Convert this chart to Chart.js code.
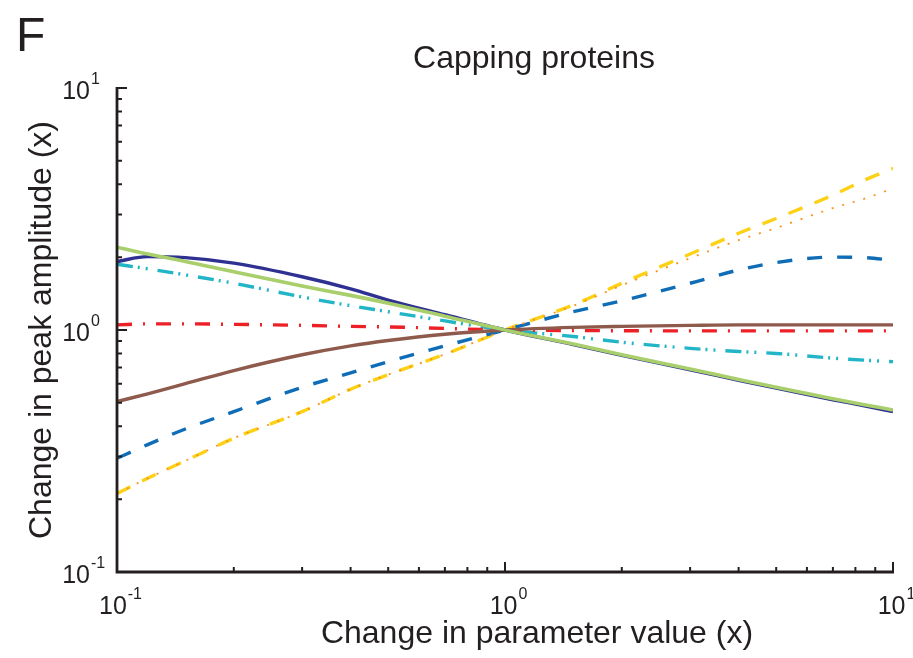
<!DOCTYPE html>
<html><head><meta charset="utf-8">
<script src="https://cdn.jsdelivr.net/npm/chart.js@4.4.1/dist/chart.umd.min.js"></script>
<style>html,body{margin:0;padding:0;background:#fff;overflow:hidden}</style>
</head><body>
<canvas id="c" width="913" height="658"></canvas>
<script>
// ---- data ----
const paramChange = [0.1, 0.12, 0.15, 0.2, 0.3, 0.4, 0.5, 0.7, 1, 1.5, 2, 3, 4, 5, 7, 8.5, 10];
const greenSolid  = [2.2, 2.06, 1.92, 1.74, 1.52, 1.39, 1.29, 1.14, 1, 0.875, 0.79, 0.69, 0.625, 0.58, 0.52, 0.49, 0.467];
const navySolid   = [1.92, 2.01, 1.99, 1.89, 1.66, 1.48, 1.33, 1.156, 1, 0.87, 0.785, 0.685, 0.62, 0.575, 0.515, 0.485, 0.46];
const brownSolid  = [0.506, 0.545, 0.60, 0.68, 0.79, 0.86, 0.905, 0.96, 1, 1.025, 1.035, 1.045, 1.05, 1.05, 1.05, 1.05, 1.05];
const redDashDot  = [1.05, 1.06, 1.06, 1.055, 1.045, 1.035, 1.03, 1.015, 1, 0.995, 0.993, 0.992, 0.992, 0.992, 0.992, 0.992, 0.992];
const cyanDashDots= [1.87, 1.79, 1.69, 1.56, 1.37, 1.26, 1.19, 1.09, 1, 0.94, 0.89, 0.84, 0.815, 0.80, 0.765, 0.75, 0.74];
const blueDashed  = [0.295, 0.336, 0.39, 0.46, 0.58, 0.665, 0.74, 0.86, 1, 1.19, 1.32, 1.56, 1.77, 1.9, 2.0, 1.99, 1.94];
const orangeDotted= [0.211, 0.244, 0.288, 0.357, 0.46, 0.569, 0.654, 0.794, 1, 1.26, 1.53, 1.98, 2.35, 2.64, 3.19, 3.5, 3.85];
const yellowDashed= [0.211, 0.244, 0.288, 0.357, 0.46, 0.569, 0.654, 0.794, 1, 1.27, 1.56, 2.06, 2.51, 2.89, 3.61, 4.18, 4.66];

const decadeTicks = [0.1, 1, 10];
const decadeExponents = ["-1", "0", "1"];
const minorMultipliers = [2, 3, 4, 5, 6, 7, 8, 9];
const titleText = "Capping proteins";
const xTitle = "Change in parameter value (x)";
const yTitle = "Change in peak amplitude (x)";
const panelLetter = "F";

const FONT = "'Liberation Sans', Arial, Helvetica, sans-serif";
const pts = arr => paramChange.map((x, i) => ({x: x, y: arr[i]}));
function ds(vals, color, dash, width) {
  return {data: pts(vals), borderColor: color, borderDash: dash, borderWidth: width,
          pointRadius: 0, fill: false, cubicInterpolationMode: 'monotone', borderCapStyle: 'butt'};
}

const axesPlugin = {
  id: 'axesPlugin',
  afterDraw(chart) {
    const ctx = chart.ctx, xs = chart.scales.x, ys = chart.scales.y, a = chart.chartArea;
    ctx.save();
    ctx.strokeStyle = '#231f20';
    ctx.lineCap = 'butt';
    // ticks (inward)
    ctx.lineWidth = 2;
    const minors = [];
    [0.1, 1].forEach(d => minorMultipliers.forEach(m => minors.push(d * m)));
    ctx.beginPath();
    minors.forEach(v => {
      const px = xs.getPixelForValue(v);
      ctx.moveTo(px, a.bottom); ctx.lineTo(px, a.bottom - 5);
      const py = ys.getPixelForValue(v);
      ctx.moveTo(a.left, py); ctx.lineTo(a.left + 5, py);
    });
    decadeTicks.forEach(v => {
      const px = xs.getPixelForValue(v);
      ctx.moveTo(px, a.bottom); ctx.lineTo(px, a.bottom - 10);
      const py = ys.getPixelForValue(v);
      ctx.moveTo(a.left, py); ctx.lineTo(a.left + 10, py);
    });
    ctx.stroke();
    // axis lines
    ctx.lineWidth = 2.8;
    ctx.beginPath();
    ctx.moveTo(a.left, a.top - 1); ctx.lineTo(a.left, a.bottom); ctx.lineTo(a.right + 1, a.bottom);
    ctx.stroke();

    ctx.fillStyle = '#231f20';
    ctx.textBaseline = 'alphabetic';
    const big = "25px " + FONT, sup = "16px " + FONT;
    // x tick labels
    decadeTicks.forEach((v, i) => {
      const px = xs.getPixelForValue(v);
      ctx.font = big; const w1 = ctx.measureText("10").width;
      ctx.font = sup; const w2 = ctx.measureText(decadeExponents[i]).width;
      const x0 = px - (w1 + w2) / 2 + 3;
      ctx.textAlign = 'left';
      ctx.font = big; ctx.fillText("10", x0, 614);
      ctx.font = sup; ctx.fillText(decadeExponents[i], x0 + w1 + 1, 599);
    });
    // y tick labels
    decadeTicks.forEach((v, i) => {
      const py = ys.getPixelForValue(v);
      ctx.textAlign = 'right';
      ctx.font = big; ctx.fillText("10", 90, py + 11);
      ctx.textAlign = 'left';
      ctx.font = sup; ctx.fillText(decadeExponents[i], 91, py - 4);
    });
    // titles
    ctx.textAlign = 'center';
    ctx.font = "32px " + FONT;
    ctx.fillText(titleText, 534, 68);
    ctx.fillText(xTitle, 537, 643);
    ctx.save();
    ctx.translate(51, 330);
    ctx.rotate(-Math.PI / 2);
    ctx.fillText(yTitle, 0, 0);
    ctx.restore();
    ctx.textAlign = 'left';
    ctx.font = "48px " + FONT;
    ctx.fillText(panelLetter, 16, 51);
    ctx.restore();
  }
};

new Chart(document.getElementById('c'), {
  type: 'line',
  data: {
    datasets: [
      ds(greenSolid, '#a8cf6b', [], 3.6),
      ds(navySolid, '#2e3192', [], 3.4),
      ds(brownSolid, '#8e5a4c', [], 3.4),
      ds(redDashDot, '#ec2127', [15, 11, 2, 11], 3.4),
      ds(cyanDashDots, '#22b5c8', [16, 5, 2, 6, 2, 10], 3.4),
      ds(orangeDotted, '#f7941d', [2, 9], 1.8),
      ds(blueDashed, '#0f6cb6', [15, 15], 3.4),
      ds(yellowDashed, '#fcd116', [15, 13], 3.4)
    ]
  },
  options: {
    responsive: false,
    animation: false,
    devicePixelRatio: 1,
    layout: {padding: {left: 117, right: 20, top: 88, bottom: 86}},
    plugins: {legend: {display: false}, tooltip: {enabled: false}, title: {display: false}},
    scales: {
      x: {type: 'logarithmic', min: 0.1, max: 10, display: false},
      y: {type: 'logarithmic', min: 0.1, max: 10, display: false}
    }
  },
  plugins: [axesPlugin]
});
</script>
</body></html>
